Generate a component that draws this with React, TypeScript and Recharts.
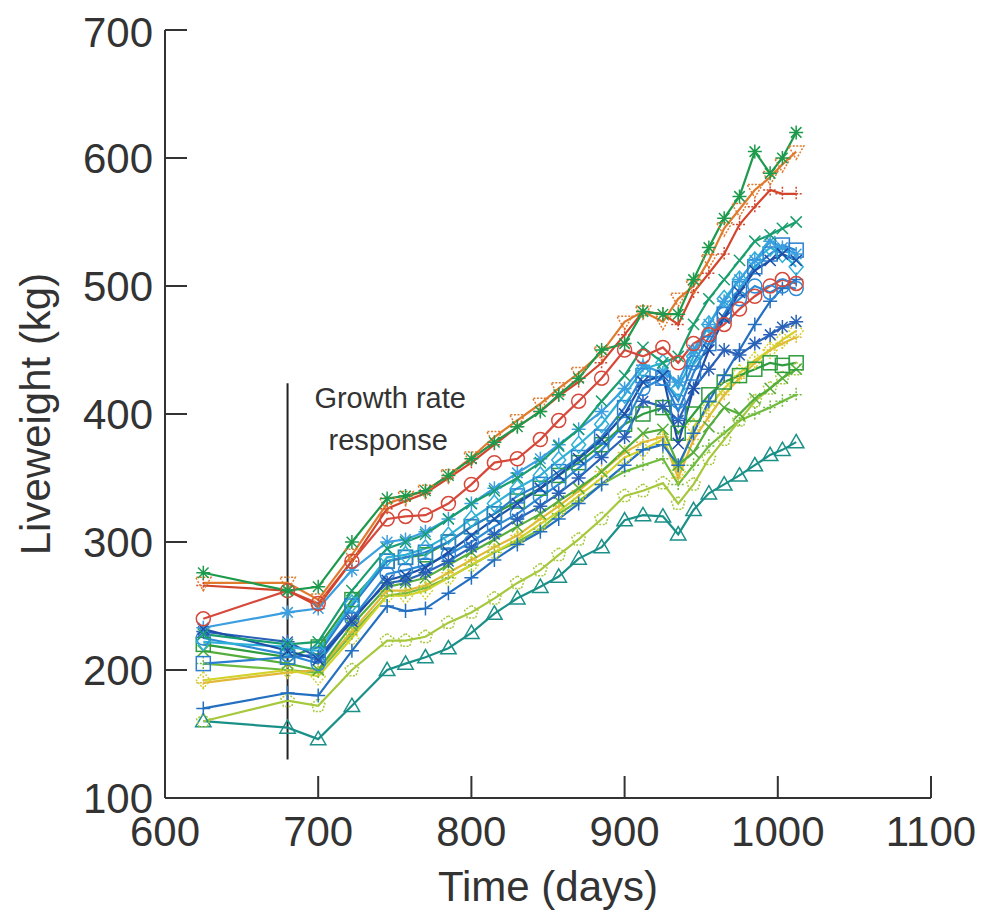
import React from 'react';
import { LineChart, Line, XAxis, YAxis, ReferenceLine, ReferenceDot, Label } from 'recharts';

const times = [625, 680, 700, 722, 745, 757, 770, 785, 800, 815, 830, 845, 857, 870, 885, 900, 912, 925, 935, 945, 955, 965, 975, 985, 995, 1003, 1012];
const xTicks = [600, 700, 800, 900, 1000, 1100];
const yTicks = [100, 200, 300, 400, 500, 600, 700];

const s01 = [276, 262, 265, 300, 334, 336, 340, 352, 365, 378, 390, 402, 415, 428, 450, 455, 480, 478, 478, 505, 530, 553, 570, 605, 588, 600, 620];
const s02 = [268, 268, 255, 290, 330, 335, 340, 352, 366, 382, 395, 408, 420, 432, 448, 472, 480, 472, 490, 500, 520, 545, 560, 575, 585, 595, 605];
const s03 = [266, 262, 250, 285, 326, 332, 338, 350, 362, 376, 390, 402, 414, 425, 440, 462, 480, 478, 470, 495, 510, 525, 548, 562, 575, 572, 572];
const s04 = [240, 262, 252, 285, 318, 320, 321, 330, 345, 362, 365, 380, 395, 410, 428, 450, 445, 452, 440, 455, 462, 470, 482, 492, 500, 505, 502];
const s05 = [228, 220, 222, 262, 295, 300, 306, 318, 330, 340, 350, 362, 375, 388, 410, 430, 452, 440, 445, 470, 490, 505, 520, 535, 540, 545, 550];
const s06 = [205, 210, 212, 250, 285, 288, 292, 300, 312, 322, 336, 345, 355, 366, 382, 405, 430, 428, 402, 432, 455, 478, 498, 515, 525, 532, 528];
const s07 = [230, 222, 210, 240, 268, 270, 276, 285, 296, 306, 318, 328, 338, 350, 366, 382, 410, 406, 395, 420, 435, 450, 446, 455, 462, 468, 472];
const s08 = [232, 215, 208, 238, 270, 274, 280, 292, 305, 318, 330, 342, 352, 365, 380, 400, 425, 430, 377, 420, 450, 475, 495, 512, 520, 525, 520];
const s09 = [225, 212, 205, 240, 275, 278, 282, 290, 300, 312, 322, 335, 345, 358, 372, 392, 420, 428, 410, 440, 460, 478, 490, 500, 495, 500, 498];
const s10 = [222, 218, 215, 252, 288, 290, 295, 305, 318, 330, 342, 352, 364, 376, 392, 415, 435, 440, 420, 445, 470, 490, 505, 520, 530, 525, 515];
const s11 = [233, 245, 248, 278, 300, 302, 308, 318, 330, 342, 354, 365, 376, 388, 402, 420, 438, 432, 425, 450, 470, 488, 505, 520, 535, 530, 525];
const s12 = [170, 182, 180, 215, 250, 246, 248, 260, 272, 286, 298, 308, 318, 330, 345, 360, 372, 376, 360, 385, 410, 430, 450, 470, 488, 498, 505];
const s13 = [220, 210, 218, 255, 285, 288, 290, 300, 312, 322, 332, 342, 352, 362, 376, 392, 400, 405, 385, 400, 415, 425, 430, 435, 440, 438, 440];
const s14 = [215, 205, 200, 235, 265, 268, 272, 282, 292, 302, 312, 322, 332, 342, 355, 372, 385, 388, 360, 370, 390, 405, 400, 412, 420, 428, 435];
const s15 = [192, 200, 195, 225, 258, 258, 262, 272, 282, 292, 302, 314, 324, 336, 350, 366, 372, 380, 355, 390, 405, 420, 432, 442, 450, 458, 465];
const s16 = [190, 198, 200, 230, 262, 262, 266, 276, 286, 296, 305, 318, 328, 340, 355, 370, 378, 382, 350, 380, 398, 415, 428, 440, 450, 455, 460];
const s17 = [160, 176, 172, 200, 223, 223, 226, 237, 245, 256, 268, 278, 290, 302, 318, 336, 340, 346, 330, 345, 365, 380, 395, 410, 420, 428, 435];
const s18 = [160, 155, 146, 172, 200, 205, 210, 217, 229, 244, 256, 265, 273, 287, 296, 317, 321, 320, 306, 325, 338, 345, 352, 360, 368, 372, 378];
const s19 = [205, 200, 198, 228, 258, 260, 264, 272, 282, 292, 300, 310, 322, 332, 345, 355, 360, 365, 345, 360, 375, 385, 395, 400, 405, 410, 415];

const seriesValues = [s19, s18, s17, s16, s15, s14, s13, s12, s09, s07, s06, s10, s11, s08, s05, s04, s03, s02, s01];
const seriesNames = ['s19', 's18', 's17', 's16', 's15', 's14', 's13', 's12', 's09', 's07', 's06', 's10', 's11', 's08', 's05', 's04', 's03', 's02', 's01'];
const seriesColors = ['#6fbb3e', '#1a9088', '#a6c83c', '#e2b838', '#d2d22c', '#55ae3c', '#2f9c3e', '#2470c0', '#2c8ad6', '#2a62b8', '#2a7fd0', '#2fb0d6', '#3a9ee0', '#1d4fa8', '#1a9e6e', '#d6483a', '#d2452c', '#e07a2c', '#1d9a4c'];
const seriesMarkers = ['plus', 'tri', 'pent', 'plus', 'diamond', 'x', 'square', 'plus', 'circle', 'star', 'square', 'diamond', 'star', 'x', 'x', 'circle', 'plus', 'tridown', 'star'];
const seriesDashed = [true, false, true, true, true, false, false, false, false, false, false, false, false, false, false, false, true, true, false];

const rows = times.map((t, i) => {
  const r: any = { t };
  seriesNames.forEach((n, k) => { r[n] = seriesValues[k][i]; });
  return r;
});

const FONT = '"Liberation Sans", Arial, Helvetica, sans-serif';

function Marker({ cx, cy, shape, color, dashed }: any) {
  if (cx == null || cy == null) return null;
  const r = 7;
  const common: any = { stroke: color, strokeWidth: 1.5, fill: 'none', strokeDasharray: dashed ? '2 1.5' : undefined };
  switch (shape) {
    case 'circle':
      return <circle cx={cx} cy={cy} r={r} {...common} />;
    case 'square':
      return <rect x={cx - r} y={cy - r} width={2 * r} height={2 * r} {...common} />;
    case 'diamond':
      return <polygon points={`${cx},${cy - r * 1.2} ${cx + r},${cy} ${cx},${cy + r * 1.2} ${cx - r},${cy}`} {...common} />;
    case 'tri':
      return <polygon points={`${cx},${cy - r * 1.1} ${cx + r * 1.1},${cy + r * 0.8} ${cx - r * 1.1},${cy + r * 0.8}`} {...common} />;
    case 'tridown':
      return <polygon points={`${cx},${cy + r * 1.1} ${cx + r * 1.1},${cy - r * 0.8} ${cx - r * 1.1},${cy - r * 0.8}`} {...common} />;
    case 'pent': {
      const pts = [0, 1, 2, 3, 4].map((k) => {
        const a = -Math.PI / 2 + (k * 2 * Math.PI) / 5;
        return `${cx + r * Math.cos(a)},${cy + r * Math.sin(a)}`;
      }).join(' ');
      return <polygon points={pts} {...common} />;
    }
    case 'plus':
      return <path d={`M${cx - r},${cy}H${cx + r}M${cx},${cy - r}V${cy + r}`} {...common} />;
    case 'x': {
      const d = r * 0.8;
      return <path d={`M${cx - d},${cy - d}L${cx + d},${cy + d}M${cx - d},${cy + d}L${cx + d},${cy - d}`} {...common} />;
    }
    case 'star':
    default: {
      const d = r * 0.75;
      return <path d={`M${cx - r},${cy}H${cx + r}M${cx},${cy - r}V${cy + r}M${cx - d},${cy - d}L${cx + d},${cy + d}M${cx - d},${cy + d}L${cx + d},${cy - d}`} {...common} />;
    }
  }
}

export default function App() {
  return (
    <LineChart width={981} height={910} data={rows} margin={{ top: 22, right: 58, bottom: 0, left: 0 }}>
      <XAxis
        dataKey="t"
        type="number"
        domain={[600, 1100]}
        ticks={xTicks}
        height={120}
        stroke="#333"
        strokeWidth={2}
        tickSize={-22}
        tickMargin={40}
        tick={{ fontSize: 42, fill: '#333', fontFamily: FONT }}
      >
        <Label
          content={(p: any) => {
            const vb = p.viewBox || {};
            return (
              <text x={vb.x + vb.width / 2} y={878} textAnchor="middle" dominantBaseline="central" fontSize={42} fill="#333" fontFamily={FONT}>
                Time (days)
              </text>
            );
          }}
        />
      </XAxis>
      <YAxis
        type="number"
        domain={[100, 700]}
        ticks={yTicks}
        width={157}
        stroke="#333"
        strokeWidth={2}
        tickSize={-22}
        tickMargin={34}
        tick={{ fontSize: 42, fill: '#333', fontFamily: FONT }}
      >
        <Label
          content={(p: any) => {
            const vb = p.viewBox || {};
            const cy = vb.y + vb.height / 2;
            return (
              <text x={27} y={cy} transform={`rotate(-90 27 ${cy})`} textAnchor="middle" dominantBaseline="central" fontSize={42} fill="#333" fontFamily={FONT}>
                Liveweight (kg)
              </text>
            );
          }}
        />
      </YAxis>
      <ReferenceLine segment={[{ x: 680, y: 130 }, { x: 680, y: 424 }]} stroke="#222" strokeWidth={2} ifOverflow="visible" />
      <ReferenceDot
        x={745}
        y={397}
        r={0}
        fill="none"
        stroke="none"
        ifOverflow="visible"
        label={(p: any) => {
          const vb = p.viewBox || {};
          const cx = vb.x + (vb.width || 0) / 2;
          const cy = vb.y + (vb.height || 0) / 2;
          return (
            <g>
              <text x={cx + 3} y={cy - 20} textAnchor="middle" dominantBaseline="central" fontSize={29} fill="#333" fontFamily={FONT}>Growth rate</text>
              <text x={cx + 1} y={cy + 22} textAnchor="middle" dominantBaseline="central" fontSize={29} fill="#333" fontFamily={FONT}>response</text>
            </g>
          );
        }}
      />
      {seriesNames.map((n, k) => (
        <Line
          key={n}
          dataKey={n}
          stroke={seriesColors[k]}
          strokeWidth={2.2}
          isAnimationActive={false}
          type="linear"
          dot={(p: any) => (
            <Marker key={`${n}-${p.index}`} cx={p.cx} cy={p.cy} shape={seriesMarkers[k]} color={seriesColors[k]} dashed={seriesDashed[k]} />
          )}
          activeDot={false}
        />
      ))}
    </LineChart>
  );
}
